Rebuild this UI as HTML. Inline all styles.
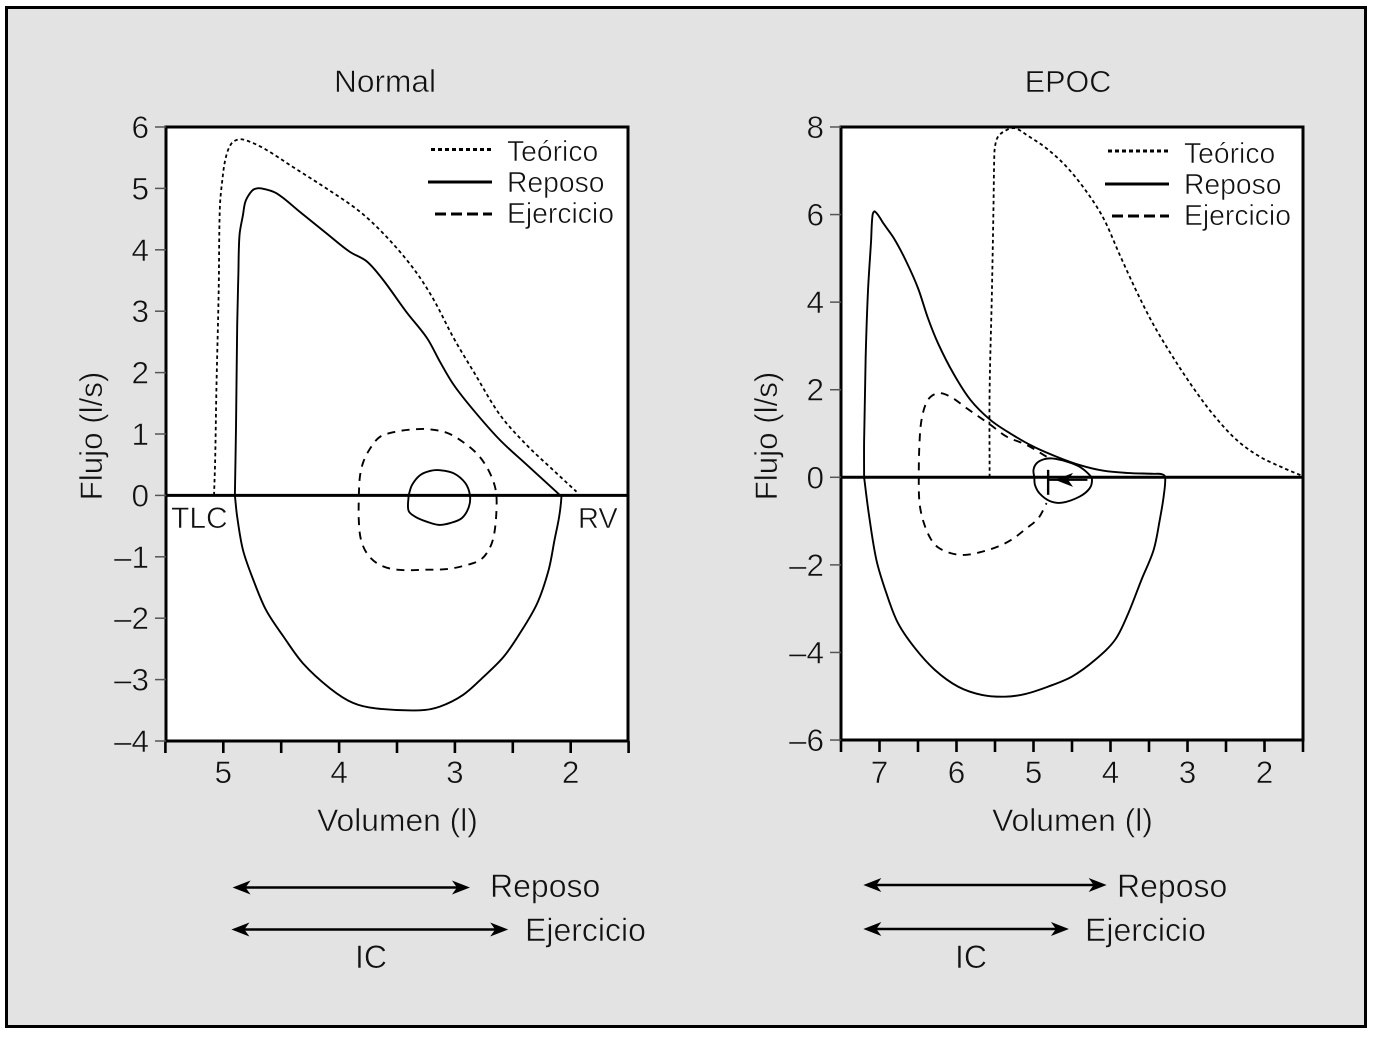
<!DOCTYPE html>
<html lang="es">
<head>
<meta charset="utf-8">
<title>Curvas flujo-volumen: Normal y EPOC</title>
<style>
html,body{margin:0;padding:0;background:#fff;width:1374px;height:1037px;overflow:hidden}
svg{display:block}
text{font-family:"Liberation Sans",Arial,sans-serif;fill:#111;stroke:#e3e3e3;stroke-width:.55px}
text.on-white{stroke:#fff}
</style>
</head>
<body>
<svg id="chart" width="1374" height="1037" viewBox="0 0 1374 1037" xmlns="http://www.w3.org/2000/svg">
  <rect x="6.5" y="7.5" width="1359" height="1019" fill="#e3e3e3" stroke="#000" stroke-width="3"/>
  <g id="normal-plot"></g>
  <g id="epoc-plot"></g>

  <text x="385" y="92" font-size="31.7" text-anchor="middle">Normal</text>
  <text x="1068" y="92" font-size="30.5" text-anchor="middle">EPOC</text>

  <text transform="translate(102 436) rotate(-90)" font-size="31.3" text-anchor="middle">Flujo (l/s)</text>
  <text transform="translate(777 436) rotate(-90)" font-size="31.3" text-anchor="middle">Flujo (l/s)</text>
  <text x="397.5" y="831" font-size="31.8" text-anchor="middle">Volumen (l)</text>
  <text x="1072.5" y="831" font-size="31.8" text-anchor="middle">Volumen (l)</text>

  <text class="on-white" x="171" y="528" font-size="30">TLC</text>
  <text class="on-white" x="578" y="528" font-size="29">RV</text>

  <g>
    <line x1="431" y1="149.5" x2="492" y2="149.5" stroke="#000" stroke-width="3" stroke-dasharray="4 3"/>
    <line x1="428" y1="182" x2="492" y2="182" stroke="#000" stroke-width="3"/>
    <line x1="435" y1="214" x2="492" y2="214" stroke="#000" stroke-width="3" stroke-dasharray="11 5"/>
    <text class="on-white" x="507" y="161" font-size="28.3">Teórico</text>
    <text class="on-white" x="507" y="192" font-size="28.3">Reposo</text>
    <text class="on-white" x="507" y="223" font-size="28.3">Ejercicio</text>
  </g>
  <g>
    <line x1="1108" y1="151" x2="1169" y2="151" stroke="#000" stroke-width="3" stroke-dasharray="4 3"/>
    <line x1="1105" y1="184" x2="1169" y2="184" stroke="#000" stroke-width="3"/>
    <line x1="1112" y1="216" x2="1169" y2="216" stroke="#000" stroke-width="3" stroke-dasharray="11 5"/>
    <text class="on-white" x="1184" y="163" font-size="28.3">Teórico</text>
    <text class="on-white" x="1184" y="194" font-size="28.3">Reposo</text>
    <text class="on-white" x="1184" y="225" font-size="28.3">Ejercicio</text>
  </g>

  <text x="490" y="897" font-size="32">Reposo</text>
  <text x="525" y="941" font-size="32">Ejercicio</text>
  <text x="371" y="968" font-size="32" text-anchor="middle">IC</text>
  <text x="1117" y="897" font-size="32">Reposo</text>
  <text x="1085" y="941" font-size="32">Ejercicio</text>
  <text x="971" y="968" font-size="32" text-anchor="middle">IC</text>
</svg>

<script>
// Normal panel data (volume in litres, flow in l/s)
const normalXTicks = [5.5, 5, 4.5, 4, 3.5, 3, 2.5, 2, 1.5];
const normalXLabels = [5, 4, 3, 2];
const normalYTicks = [6, 5, 4, 3, 2, 1, 0, -1, -2, -3, -4];
const normalTeoricoV = [5.08, 5.07, 5.06, 5.04, 5.03, 5.01, 4.98, 4.93, 4.86, 4.77, 4.63, 4.40, 4.11, 3.82, 3.59, 3.36, 3.19, 3.01, 2.84, 2.61, 2.38, 2.15, 1.95];
const normalTeoricoF = [0, 0.60, 1.69, 3.32, 4.68, 5.11, 5.49, 5.73, 5.80, 5.76, 5.63, 5.35, 5.00, 4.62, 4.21, 3.70, 3.21, 2.56, 2.02, 1.31, 0.82, 0.41, 0.06];
const normalReposoV = [4.90, 4.89, 4.88, 4.87, 4.86, 4.83, 4.81, 4.77, 4.73, 4.67, 4.54, 4.34, 4.11, 3.91, 3.76, 3.62, 3.42, 3.24, 3.13, 3.01, 2.84, 2.61, 2.38, 2.09, 2.08, 2.10, 2.14, 2.19, 2.29, 2.44, 2.58, 2.75, 2.93, 3.13, 3.30, 3.68, 3.88, 4.08, 4.31, 4.48, 4.63, 4.74, 4.83, 4.88, 4.90];
const normalReposoF = [0, 1.15, 2.78, 3.59, 4.24, 4.57, 4.78, 4.92, 4.99, 5.00, 4.92, 4.62, 4.27, 3.97, 3.81, 3.51, 2.99, 2.56, 2.18, 1.80, 1.39, 0.90, 0.50, 0, -0.02, -0.35, -0.73, -1.21, -1.76, -2.25, -2.63, -2.95, -3.25, -3.44, -3.50, -3.47, -3.38, -3.14, -2.74, -2.30, -1.87, -1.38, -0.89, -0.35, 0];
const normalTidalV = [3.40, 3.37, 3.30, 3.21, 3.13, 3.01, 2.91, 2.87, 2.88, 2.94, 3.04, 3.14, 3.24, 3.34, 3.40, 3.40];
const normalTidalF = [0, 0.17, 0.33, 0.40, 0.41, 0.36, 0.20, 0, -0.19, -0.37, -0.45, -0.48, -0.43, -0.35, -0.25, 0];
const normalEjercicioV = [3.83, 3.82, 3.79, 3.73, 3.65, 3.53, 3.39, 3.24, 3.07, 2.93, 2.80, 2.71, 2.65, 2.64, 2.66, 2.70, 2.78, 2.93, 3.07, 3.24, 3.50, 3.65, 3.75, 3.81, 3.83, 3.83];
const normalEjercicioF = [0, 0.31, 0.55, 0.77, 0.95, 1.03, 1.07, 1.08, 1.02, 0.87, 0.66, 0.41, 0.11, -0.18, -0.62, -0.86, -1.05, -1.15, -1.20, -1.21, -1.21, -1.13, -0.97, -0.73, -0.40, 0];
const normalIcReposo = [4.92, 2.87];
const normalIcEjercicio = [4.93, 2.54];

// EPOC panel data
const epocXTicks = [7.5, 7, 6.5, 6, 5.5, 5, 4.5, 4, 3.5, 3, 2.5, 2, 1.5];
const epocXLabels = [7, 6, 5, 4, 3, 2];
const epocYTicks = [8, 6, 4, 2, 0, -2, -4, -6];
const epocTeoricoV = [5.57, 5.57, 5.54, 5.52, 5.51, 5.50, 5.46, 5.35, 5.24, 5.09, 4.83, 4.57, 4.31, 4.09, 3.88, 3.66, 3.44, 3.18, 2.92, 2.66, 2.36, 2.06, 1.75, 1.52];
const epocTeoricoF = [0, 1.96, 4.24, 6.14, 7.28, 7.55, 7.78, 7.93, 7.97, 7.82, 7.51, 7.09, 6.52, 5.91, 5.08, 4.24, 3.48, 2.72, 2.03, 1.42, 0.85, 0.47, 0.21, 0.04];
const epocReposoV = [7.20, 7.20, 7.18, 7.15, 7.11, 7.09, 7.06, 6.95, 6.80, 6.65, 6.50, 6.37, 6.24, 6.04, 5.82, 5.56, 5.31, 5.00, 4.70, 4.40, 4.09, 3.79, 3.44, 3.33, 3.29, 3.31, 3.36, 3.44, 3.60, 3.77, 3.94, 4.20, 4.50, 4.81, 5.11, 5.37, 5.67, 5.98, 6.28, 6.54, 6.76, 6.91, 7.04, 7.14, 7.20];
const epocReposoF = [0, 0.81, 2.72, 4.24, 5.38, 5.99, 6.07, 5.80, 5.42, 4.92, 4.32, 3.63, 3.06, 2.37, 1.77, 1.31, 1.01, 0.70, 0.47, 0.28, 0.15, 0.10, 0.08, 0.07, 0, -0.44, -0.97, -1.66, -2.35, -3.11, -3.71, -4.17, -4.55, -4.78, -4.95, -5.01, -4.97, -4.78, -4.40, -3.90, -3.33, -2.65, -1.89, -0.82, 0];
const epocTidalV = [4.99, 5.00, 4.96, 4.87, 4.76, 4.57, 4.40, 4.27, 4.24, 4.27, 4.40, 4.63, 4.79, 4.92, 4.98, 4.99];
const epocTidalF = [0, 0.17, 0.32, 0.41, 0.43, 0.36, 0.24, 0.05, -0.06, -0.25, -0.44, -0.58, -0.54, -0.37, -0.18, 0];
const epocEjercicioV = [4.83, 5.09, 5.35, 5.56, 5.87, 6.08, 6.24, 6.37, 6.45, 6.48, 6.49, 6.48, 6.43, 6.34, 6.24, 6.06, 5.87, 5.67, 5.46, 5.28, 5.11, 4.94, 4.83];
const epocEjercicioF = [0.47, 0.74, 0.93, 1.20, 1.58, 1.84, 1.92, 1.77, 1.35, 0.81, 0, -0.59, -1.01, -1.39, -1.60, -1.74, -1.77, -1.70, -1.58, -1.42, -1.19, -0.94, -0.59];
const epocIcReposo = [7.21, 4.05];
const epocIcEjercicio = [7.21, 4.54];
const epocMarkV = [4.81, 4.81];
const epocMarkF = [0.17, -0.40];
const epocShiftV = [4.30, 4.72];
const epocShiftF = [-0.06, -0.06];

const SVGNS = 'http://www.w3.org/2000/svg';
function make(tag, attrs, parent) {
  const el = document.createElementNS(SVGNS, tag);
  for (const k in attrs) el.setAttribute(k, attrs[k]);
  parent.appendChild(el);
  return el;
}
function smoothPath(vs, fs, sx, sy) {
  const pts = vs.map((v, i) => [sx(v), sy(fs[i])]);
  const dist = (a, b) => Math.hypot(a[0] - b[0], a[1] - b[1]) || 1;
  const tangent = i => {
    const a = pts[Math.max(i - 1, 0)], b = pts[Math.min(i + 1, pts.length - 1)];
    const d = dist(a, b);
    return [(b[0] - a[0]) / d, (b[1] - a[1]) / d];
  };
  let d = 'M' + pts[0][0].toFixed(2) + ' ' + pts[0][1].toFixed(2);
  for (let i = 0; i < pts.length - 1; i++) {
    const p1 = pts[i], p2 = pts[i + 1], len = dist(p1, p2) / 3;
    const t1 = tangent(i), t2 = tangent(i + 1);
    const c1x = p1[0] + t1[0] * len, c1y = p1[1] + t1[1] * len;
    const c2x = p2[0] - t2[0] * len, c2y = p2[1] - t2[1] * len;
    d += 'C' + c1x.toFixed(2) + ' ' + c1y.toFixed(2) + ' ' + c2x.toFixed(2) + ' ' + c2y.toFixed(2) + ' ' + p2[0].toFixed(2) + ' ' + p2[1].toFixed(2);
  }
  return d;
}
function curve(parent, name, vs, fs, sx, sy, dash) {
  const el = make('path', {d: smoothPath(vs, fs, sx, sy), fill: 'none', stroke: '#000', 'stroke-width': dash === '3.5 3' ? 1.8 : 1.9, 'stroke-dasharray': dash || 'none', 'stroke-linejoin': 'round'}, parent);
  
  
  return el;
}
function arrowHead(parent, tipX, y, dir, len, half, notch) {
  const back = tipX - dir * len, mid = tipX - dir * (len - notch);
  const el = make('polygon', {points: tipX + ',' + y + ' ' + back + ',' + (y - half) + ' ' + mid + ',' + y + ' ' + back + ',' + (y + half), fill: '#000'}, parent);
  
  
}
function doubleArrow(parent, name, x1, x2, y) {
  const g = make('g', {}, parent);
  
  
  const ln = make('line', {x1: x1 + 6, y1: y, x2: x2 - 6, y2: y, stroke: '#000', 'stroke-width': 2.6}, g);
  
  
  arrowHead(g, x1, y, -1, 18, 7, 5);
  arrowHead(g, x2, y, 1, 18, 7, 5);
}
function drawAxes(parent, prefix, box, sx, sy, xTicks, xLabels, yTicks) {
  const plotBg = make('rect', {x: box.left, y: box.top, width: box.right - box.left, height: box.bottom - box.top, fill: '#fff'}, parent);
  
  
  return function finish() {
    const frame = make('rect', {x: box.left, y: box.top, width: box.right - box.left, height: box.bottom - box.top, fill: 'none', stroke: '#000', 'stroke-width': 3}, parent);
    
    
    const zero = make('line', {x1: box.left, y1: sy(0), x2: box.right, y2: sy(0), stroke: '#000', 'stroke-width': 3}, parent);
    
    
    xTicks.forEach(t => {
      const tk = make('line', {x1: sx(t), y1: box.bottom, x2: sx(t), y2: box.bottom + 12, stroke: '#000', 'stroke-width': 2.6}, parent);
      
      
    });
    xLabels.forEach(t => {
      const lb = make('text', {x: sx(t), y: 783, 'font-size': 31.5, 'text-anchor': 'middle'}, parent);
      lb.textContent = String(t);
      
      
    });
    yTicks.forEach(t => {
      const tk = make('line', {x1: box.left - 11, y1: sy(t), x2: box.left, y2: sy(t), stroke: '#555', 'stroke-width': 1.5}, parent);
      
      
      const lb = make('text', {x: box.left - 17, y: sy(t) + 11, 'font-size': 31.5, 'text-anchor': 'end'}, parent);
      lb.textContent = String(t).replace('-', '\u2013');
      
      
    });
  };
}

// Axis functions
const xN = v => 223.3 + (5 - v) * 115.8;
const yN = f => 495.4 - f * 61.4;
const xE = v => 879.5 + (7 - v) * 77;
const yE = f => 477.3 - f * 43.79;

const DOT = '3.5 3', DASH = '8 6.5';

// Normal
const gN = document.getElementById('normal-plot');
const finishN = drawAxes(gN, 'normal', {left: 166, right: 628, top: 127, bottom: 741}, xN, yN, normalXTicks, normalXLabels, normalYTicks);
curve(gN, 'normal-teorico-curve', normalTeoricoV, normalTeoricoF, xN, yN, DOT);
curve(gN, 'normal-reposo-loop', normalReposoV, normalReposoF, xN, yN);
curve(gN, 'normal-tidal-loop', normalTidalV, normalTidalF, xN, yN);
curve(gN, 'normal-ejercicio-loop', normalEjercicioV, normalEjercicioF, xN, yN, DASH);
finishN();
doubleArrow(gN, 'normal-ic-reposo-arrow', xN(normalIcReposo[0]), xN(normalIcReposo[1]), 887.5);
doubleArrow(gN, 'normal-ic-ejercicio-arrow', xN(normalIcEjercicio[0]), xN(normalIcEjercicio[1]), 929.5);

// EPOC
const gE = document.getElementById('epoc-plot');
const finishE = drawAxes(gE, 'epoc', {left: 841, right: 1303, top: 127, bottom: 740}, xE, yE, epocXTicks, epocXLabels, epocYTicks);
curve(gE, 'epoc-teorico-curve', epocTeoricoV, epocTeoricoF, xE, yE, DOT);
curve(gE, 'epoc-reposo-loop', epocReposoV, epocReposoF, xE, yE);
curve(gE, 'epoc-tidal-loop', epocTidalV, epocTidalF, xE, yE);
curve(gE, 'epoc-ejercicio-loop', epocEjercicioV, epocEjercicioF, xE, yE, DASH);
finishE();
const mark = make('line', {x1: xE(epocMarkV[0]), y1: yE(epocMarkF[0]), x2: xE(epocMarkV[1]), y2: yE(epocMarkF[1]), stroke: '#000', 'stroke-width': 2.4}, gE);


const shift = make('line', {x1: xE(epocShiftV[0]), y1: yE(epocShiftF[0]), x2: xE(epocShiftV[1]) - 6, y2: yE(epocShiftF[1]), stroke: '#000', 'stroke-width': 2}, gE);


arrowHead(gE, xE(epocShiftV[1]), yE(epocShiftF[1]), -1, 18, 7, 5);
doubleArrow(gE, 'epoc-ic-reposo-arrow', xE(epocIcReposo[0]), xE(epocIcReposo[1]), 885);
doubleArrow(gE, 'epoc-ic-ejercicio-arrow', xE(epocIcEjercicio[0]), xE(epocIcEjercicio[1]), 929);
</script>
</body>
</html>
